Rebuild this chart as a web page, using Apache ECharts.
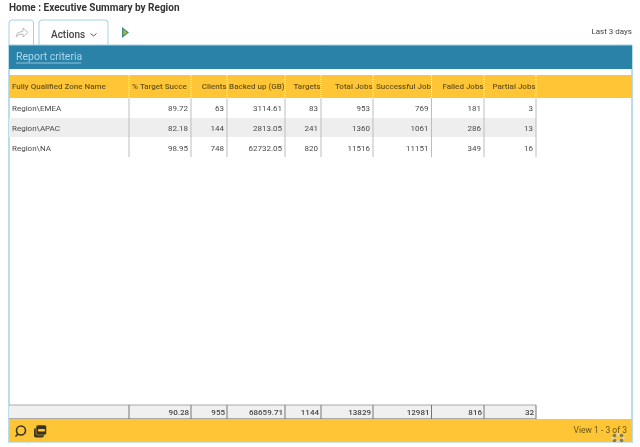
<!DOCTYPE html>
<html>
	<head>
		<meta charset="utf-8" />
		<title>Executive Summary by Region</title>
		<script type="text/javascript" src="https://cdn.jsdelivr.net/npm/echarts@6/dist/echarts.min.js"></script>
		<style>
			html, body { margin: 0; padding: 0; background: #fff; }
			#main { width: 640px; height: 447px; filter: blur(0.5px); }
		</style>
		<script type="text/javascript">
		// table content
		var columnNames = ['Fully Qualified Zone Name', '% Target Success', 'Clients', 'Backed up (GB)', 'Targets', 'Total Jobs', 'Successful Jobs', 'Failed Jobs', 'Partial Jobs'];
		var zones = ['Region\\EMEA', 'Region\\APAC', 'Region\\NA'];
		var targetSuccess = ['89.72', '82.18', '98.95'];
		var clients = ['63', '144', '748'];
		var backedUp = ['3114.61', '2813.05', '62732.05'];
		var targets = ['83', '241', '820'];
		var totalJobs = ['953', '1360', '11516'];
		var successfulJobs = ['769', '1061', '11151'];
		var failedJobs = ['181', '286', '349'];
		var partialJobs = ['3', '13', '16'];
		var totals = ['', '90.28', '955', '68659.71', '1144', '13829', '12981', '816', '32'];

		var tableColumns = [zones, targetSuccess, clients, backedUp, targets, totalJobs, successfulJobs, failedJobs, partialJobs];

		// layout of the grid, in pixels
		var colEdges = [9, 129, 191, 227, 285, 321, 373, 431.5, 484, 536];
		var rowTops = [98, 118, 138];
		var rowH = 20;

		var YELLOW = '#fec636', BLUE = '#2a82a9', FRAME = '#a5d0e4';

		function rect(x, y, w, h, fill, stroke) {
			return { type: 'rect', shape: { x: x, y: y, width: w, height: h }, style: { fill: fill || 'transparent', stroke: stroke || null, lineWidth: 1 }, silent: true };
		}
		function line(x1, y1, x2, y2, color, width, dash) {
			return { type: 'line', shape: { x1: x1, y1: y1, x2: x2, y2: y2 }, style: { stroke: color, lineWidth: width || 1, lineDash: dash || null }, silent: true };
		}
		function label(str, x, y, opt) {
			opt = opt || {};
			var style = {
				text: str,
				x: x,
				y: y,
				fill: opt.color || '#4a4a4a',
				font: (opt.weight || 'normal') + ' ' + (opt.size || 8) + 'px Roboto, sans-serif',
				align: opt.align || 'left',
				verticalAlign: 'middle'
			};
			if (opt.width) {
				style.width = opt.width;
				style.overflow = 'truncate';
				style.ellipsis = '';
			}
			return { type: 'text', style: style, silent: true, z: 5 };
		}

		function buildGraphic() {
			var g = [];
			var i, j;

			// page title, tabs
			g.push(label('Home : Executive Summary by Region', 9, 8, { size: 10, weight: 'bold', color: '#333' }));
			g.push({ type: 'rect', shape: { x: 9, y: 20, width: 24.5, height: 30, r: 3 }, style: { fill: '#fff', stroke: FRAME, lineWidth: 1 }, silent: true });
			g.push({ type: 'rect', shape: { x: 39, y: 20, width: 69, height: 30, r: 3 }, style: { fill: '#fff', stroke: FRAME, lineWidth: 1 }, silent: true });
			g.push({ type: 'polygon', shape: { points: [[16, 37], [17.5, 33], [23, 31], [23, 28], [28, 32.5], [23, 37], [23, 34], [19, 34.5]] }, style: { fill: '#fff', stroke: '#bbb', lineWidth: 1 }, silent: true });
			g.push(label('Actions', 51, 35, { size: 10, weight: '500', color: '#444' }));
			g.push({ type: 'polyline', shape: { points: [[90.5, 33.5], [93.5, 36], [96.5, 33.5]] }, style: { stroke: '#555', lineWidth: 1, fill: null }, silent: true });
			g.push({ type: 'polygon', shape: { points: [[122, 27], [129, 32.5], [122, 38]] }, style: { fill: '#3a8f8a' }, silent: true });
			g.push({ type: 'polygon', shape: { points: [[123.5, 29.5], [127, 32.5], [123.5, 35.5]] }, style: { fill: '#b5b83a' }, silent: true });
			g.push(label('Last 3 days', 632, 32, { align: 'right', color: '#444' }));

			// outer frame and blue band
			g.push(line(9, 45, 9, 443, FRAME, 1.5));
			g.push(line(632, 45, 632, 443, FRAME, 1.5));
			g.push(rect(9, 45, 623, 24, BLUE));
			g.push(line(9, 45, 632, 45, FRAME, 1));
			g.push(label('Report criteria', 16, 57, { size: 10.5, color: '#a8d8ee' }));
			g.push(line(16, 63, 81, 63, '#a8d8ee', 0.8));

			// header row, some of the names are cut by their column
			var cutWidth = { 1: 57, 6: 57 };
			g.push(rect(9, 75, 623, 23, YELLOW));
			for (j = 0; j < columnNames.length; j++) {
				if (j === 0 || cutWidth[j]) {
					g.push(label(columnNames[j], colEdges[j] + 3, 87, { color: '#6a5418', weight: '500', width: cutWidth[j] || 110 }));
				} else {
					g.push(label(columnNames[j], colEdges[j + 1] - 0.5, 87, { color: '#6a5418', weight: '500', align: 'right' }));
				}
			}
			for (j = 1; j < colEdges.length; j++) {
				g.push(line(colEdges[j], 75, colEdges[j], 98, '#fff', 1, [1, 1]));
			}

			// body rows
			g.push(rect(9, rowTops[1], 527, rowH - 1, '#eeeeee'));
			for (i = 0; i < zones.length; i++) {
				var cy = rowTops[i] + 10.5;
				g.push(label(tableColumns[0][i], 12, cy));
				for (j = 1; j < tableColumns.length; j++) {
					g.push(label(tableColumns[j][i], colEdges[j + 1] - 3, cy, { align: 'right' }));
				}
			}
			for (j = 1; j < colEdges.length; j++) {
				g.push(line(colEdges[j], 98, colEdges[j], 157, '#bdbdbd', 1));
			}

			// totals row
			g.push(rect(9, 405, 527, 14, '#f0f0f0'));
			g.push(line(9, 405, 536, 405, '#aaa', 1));
			g.push(line(9, 419, 536, 419, '#666', 1));
			for (j = 1; j < colEdges.length; j++) {
				g.push(line(colEdges[j], 405, colEdges[j], 419, '#777', 1));
				g.push(label(totals[j], colEdges[j + 1] - 2, 412.5, { align: 'right', color: '#444', weight: '500' }));
			}

			// bottom bar
			g.push(rect(9, 419, 623, 23, YELLOW));
			g.push({ type: 'circle', shape: { cx: 21, cy: 430.5, r: 4.5 }, style: { fill: null, stroke: '#3a3320', lineWidth: 1.6 }, silent: true });
			g.push(line(18, 434, 15.5, 436.5, '#3a3320', 1.6));
			g.push({ type: 'rect', shape: { x: 34, y: 428, width: 10, height: 9.5, r: 2 }, style: { fill: '#3a3320' }, silent: true });
			g.push({ type: 'rect', shape: { x: 36, y: 425, width: 10.5, height: 10, r: 2 }, style: { fill: '#3a3320', stroke: YELLOW, lineWidth: 0.5 }, silent: true });
			g.push({ type: 'rect', shape: { x: 38, y: 429, width: 7, height: 2.5, r: 1 }, style: { fill: YELLOW }, silent: true });
			g.push(label('View 1 - 3 of 3', 627, 431, { size: 8.5, align: 'right', color: '#6a5418' }));
			g.push(line(9, 442.5, 632, 442.5, '#cfe3ea', 1));

			// busy spinner in the corner
			for (i = 0; i < 8; i++) {
				var a = i * Math.PI / 4;
				g.push({ type: 'circle', shape: { cx: 618 + Math.cos(a) * 5, cy: 438 + Math.sin(a) * 3.5, r: 1.8 }, style: { fill: i % 2 ? '#8a7a45' : '#d8d2b8' }, silent: true, z: 6 });
			}
			return g;
		}

		window.onload = function () {
			var myChart = echarts.init(document.getElementById('main'));
			myChart.setOption({
				animation: false,
				graphic: { elements: buildGraphic() }
			});
		};
		</script>
	</head>
	<body>
		<div id="main"></div>
	</body>
</html>
